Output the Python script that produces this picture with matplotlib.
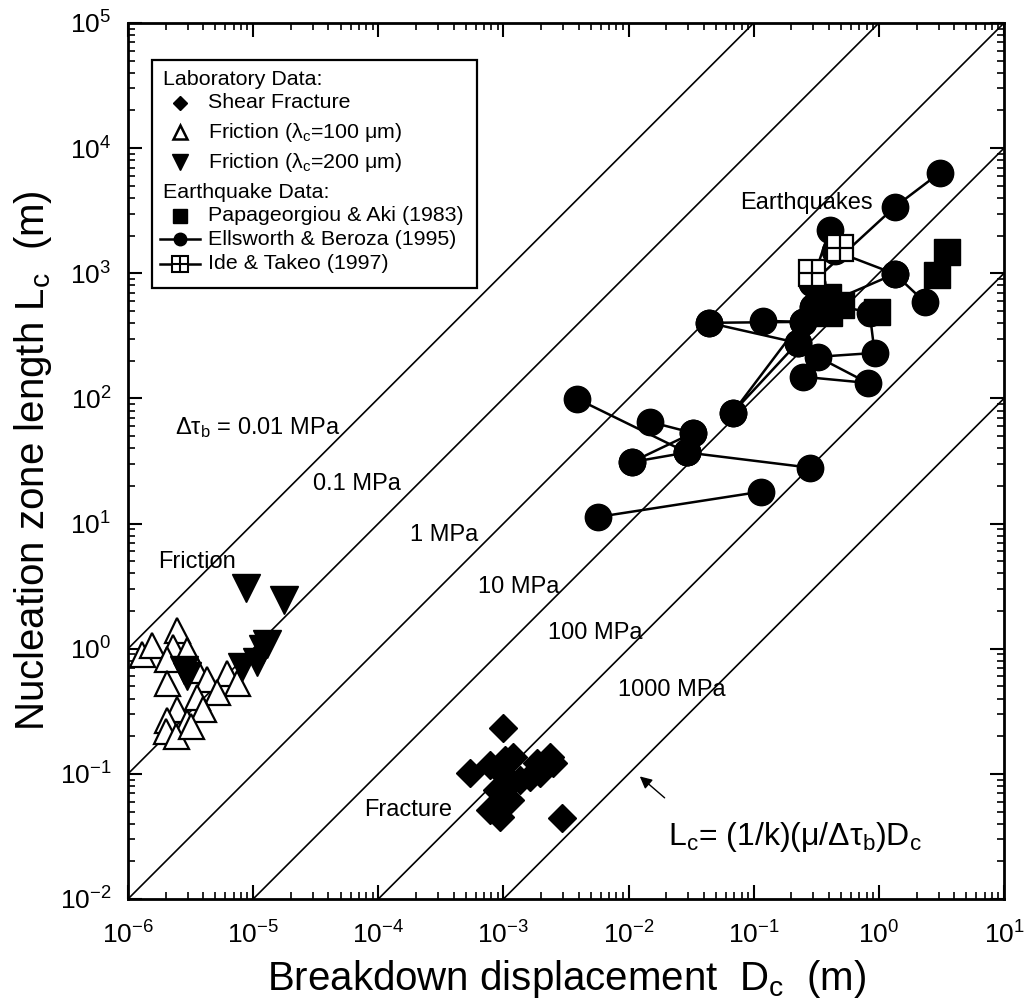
import numpy as np
import matplotlib.pyplot as plt

plt.rcParams['font.family'] = ['Liberation Sans', 'DejaVu Sans']
plt.rcParams['mathtext.fontset'] = 'custom'
plt.rcParams['mathtext.rm'] = 'Liberation Sans'
plt.rcParams['mathtext.it'] = 'Liberation Sans'
plt.rcParams['mathtext.sf'] = 'Liberation Sans'

# reference lines Lc/Dc for each stress drop
ratios = [1e6, 1e5, 1e4, 1e3, 1e2, 1e1]
line_labels = [r'$\mathregular{\Delta\tau_b}$ = 0.01 MPa', '0.1 MPa', '1 MPa',
               '10 MPa', '100 MPa', '1000 MPa']
label_pos = [(-5.625, 1.765), (-4.522, 1.318), (-3.748, 0.911),
             (-3.205, 0.495), (-2.645, 0.128), (-2.086, -0.327)]

# shear fracture (lab)
frac_dc = [9.9e-4, 5.4e-4, 1.03e-3, 1.19e-3, 9.7e-4, 8.9e-4, 1.12e-3, 8.9e-4,
           1.12e-3, 1.35e-3, 1.85e-3, 2.35e-3, 2.48e-3, 1.95e-3, 1.63e-3,
           2.92e-3, 7.8e-4, 9.35e-4, 7.8e-4]
frac_lc = [0.234, 0.102, 0.130, 0.137, 0.102, 0.0748, 0.085, 0.0547,
           0.0622, 0.090, 0.123, 0.137, 0.123, 0.102, 0.095,
           0.0447, 0.0518, 0.0455, 0.118]

# friction, lambda_c = 100 um
f100_dc = [1.3e-6, 1.56e-6, 2.46e-6, 2.28e-6, 2.05e-6, 2.96e-6, 2.05e-6, 3.56e-6,
           4.27e-6, 6.18e-6, 7.4e-6, 5.1e-6, 3.56e-6, 2.46e-6, 2.05e-6, 2.96e-6,
           4.0e-6, 2.0e-6, 2.4e-6, 3.2e-6]
f100_lc = [0.9, 1.08, 1.42, 1.04, 0.82, 0.98, 0.53, 0.68,
           0.57, 0.64, 0.53, 0.45, 0.41, 0.33, 0.27, 0.26,
           0.33, 0.22, 0.2, 0.24]

# friction, lambda_c = 200 um
f200_dc = [8.75e-6, 1.76e-5, 1.2e-5, 1.07e-5, 8.1e-6, 2.96e-6, 2.8e-6, 1.3e-5]
f200_lc = [3.07, 2.46, 1.0, 0.79, 0.72, 0.60, 0.68, 1.1]

# Papageorgiou & Aki (1983)
pa_dc = [3.48, 2.9, 0.96, 0.39, 0.40, 0.5]
pa_lc = [1483, 971, 492, 648, 483, 560]

# Ellsworth & Beroza (1995): connected estimates
eb_dc = [
    [3.06, 1.34, 0.29],
    [0.405, 0.29],
    [0.45, 1.34, 2.32],
    [1.34, 0.39],
    [0.39, 0.845, 0.925, 0.324, 0.815, 0.246],
    [0.0437, 0.224],
    [0.0437, 0.246],
    [0.118, 0.246],
    [0.296, 0.39],
    [0.0039, 0.0292],
    [0.0148, 0.0326],
    [0.0106, 0.0292],
    [0.0106, 0.0326],
    [0.0057, 0.115],
    [0.0292, 0.28],
    [0.068, 0.224],
    [0.068, 0.296],
]
eb_lc = [
    [6340, 3390, 830],
    [2220, 830],
    [1500, 989, 591],
    [989, 580],
    [580, 483, 231, 215, 133, 149],
    [402, 278],
    [402, 409],
    [417, 409],
    [540, 580],
    [99, 37],
    [65, 53],
    [31, 37],
    [31, 53],
    [11.3, 18],
    [37, 28],
    [77, 278],
    [77, 540],
]

# Ide & Takeo (1997)
it_dc = [0.486, 0.29]
it_lc = [1596, 1007]

x_major = 10.0 ** np.arange(-6, 2)
y_major = 10.0 ** np.arange(-2, 6)

fig = plt.figure(figsize=(10.24, 10.07), dpi=100)
ax = fig.add_axes([128/1024, 1 - 899/1007, 876/1024, 876/1007])
ax.set_xscale('log')
ax.set_yscale('log')
ax.set_xticks(x_major)
ax.set_yticks(y_major)
ax.set_xlim(1e-6, 1e1)
ax.set_ylim(1e-2, 1e5)

xx = np.array([1e-7, 1e2])
for r in ratios:
    ax.plot(xx, r * xx, color='k', lw=1.2, zorder=1)

for (lx, ly), t in zip(label_pos, line_labels):
    ax.text(10**lx, 10**ly, t, fontsize=17, va='center', ha='left', zorder=6)

ax.plot(f100_dc, f100_lc, '^', ms=18, mfc='white', mec='k', mew=1.6, ls='none', zorder=3)
ax.plot(f200_dc, f200_lc, 'v', ms=20, color='k', ls='none', zorder=4)
ax.plot(frac_dc, frac_lc, 'D', ms=14, color='k', ls='none', zorder=3)

for d, l in zip(eb_dc, eb_lc):
    ax.plot(d, l, 'o-', ms=19, color='k', lw=1.8, zorder=3)
ax.plot(pa_dc, pa_lc, 's', ms=19, color='k', ls='none', zorder=4)
ax.plot(it_dc, it_lc, 's', ms=19, mfc='white', mec='k', mew=1.6, ls='none', zorder=5)
ax.plot(it_dc, it_lc, '+', ms=19, mec='k', mew=1.6, ls='none', zorder=5)

ax.text(10**-5.760, 10**0.695, 'Friction', fontsize=17, va='center', ha='left')
ax.text(10**-3.412, 10**-1.286, 'Fracture', fontsize=17, va='center', ha='right')
ax.text(10**-1.112, 10**3.562, 'Earthquakes', fontsize=17, va='center', ha='left')
ax.text(10**-1.687, 10**-1.502, r'$\mathregular{L_c}$= (1/k)(μ/$\mathregular{\Delta\tau_b}$)$\mathregular{D_c}$',
        fontsize=23, va='center', ha='left')
ax.annotate('', xy=(10**-1.927, 10**-1.006), xytext=(10**-1.695, 10**-1.206),
            arrowprops=dict(arrowstyle='-|>', color='k', lw=1.0, mutation_scale=18))

# legend box
ax.add_patch(plt.Rectangle((0.0274, 0.697), 0.3706, 0.261, transform=ax.transAxes,
                           fill=False, lw=1.6, ec='k', zorder=7))
rows = [0.935, 0.909, 0.875, 0.841, 0.807, 0.780, 0.753, 0.725]
hx, mx, tx = 0.040, 0.0594, 0.0913
lfs = 15.4
ax.text(hx, rows[0], 'Laboratory Data:', transform=ax.transAxes, fontsize=lfs, va='center')
ax.plot(mx, rows[1], 'D', ms=7.5, color='k', transform=ax.transAxes)
ax.text(tx, rows[1], 'Shear Fracture', transform=ax.transAxes, fontsize=lfs, va='center')
ax.plot(mx, rows[2], '^', ms=10, mfc='white', mec='k', mew=1.8, transform=ax.transAxes)
ax.text(tx, rows[2], r'Friction ($\mathregular{\lambda_c}$=100 μm)', transform=ax.transAxes,
        fontsize=lfs, va='center')
ax.plot(mx, rows[3], 'v', ms=11, color='k', transform=ax.transAxes)
ax.text(tx, rows[3], r'Friction ($\mathregular{\lambda_c}$=200 μm)', transform=ax.transAxes,
        fontsize=lfs, va='center')
ax.text(hx, rows[4], 'Earthquake Data:', transform=ax.transAxes, fontsize=lfs, va='center')
ax.plot(mx, rows[5], 's', ms=10, color='k', transform=ax.transAxes)
ax.text(tx, rows[5], 'Papageorgiou & Aki (1983)', transform=ax.transAxes, fontsize=lfs, va='center')
ax.plot([0.0365, 0.0822], [rows[6]] * 2, 'k-', lw=1.8, transform=ax.transAxes)
ax.plot(mx, rows[6], 'o', ms=9, color='k', transform=ax.transAxes)
ax.text(tx, rows[6], 'Ellsworth & Beroza (1995)', transform=ax.transAxes, fontsize=lfs, va='center')
ax.plot([0.0365, 0.0822], [rows[7]] * 2, 'k-', lw=1.8, transform=ax.transAxes)
ax.plot(mx, rows[7], 's', ms=11, mfc='white', mec='k', mew=1.5, transform=ax.transAxes)
ax.plot(mx, rows[7], '+', ms=11, mec='k', mew=1.5, transform=ax.transAxes)
ax.text(tx, rows[7], 'Ide & Takeo (1997)', transform=ax.transAxes, fontsize=lfs, va='center')

ax.tick_params(which='both', direction='in', top=True, right=True)
ax.tick_params(which='major', length=10, width=1.5, labelsize=19)
ax.tick_params(axis='x', which='major', pad=16)
ax.tick_params(axis='y', which='major', pad=12)
ax.tick_params(which='minor', length=5, width=1.2)
for s in ax.spines.values():
    s.set_linewidth(2)

ax.set_xlabel(r'Breakdown displacement  $\mathregular{D_c}$  (m)', fontsize=29, labelpad=7)
ax.set_ylabel(r'Nucleation zone length $\mathregular{L_c}$  (m)', fontsize=29, labelpad=4)

fig.savefig('out.png', dpi=100)
